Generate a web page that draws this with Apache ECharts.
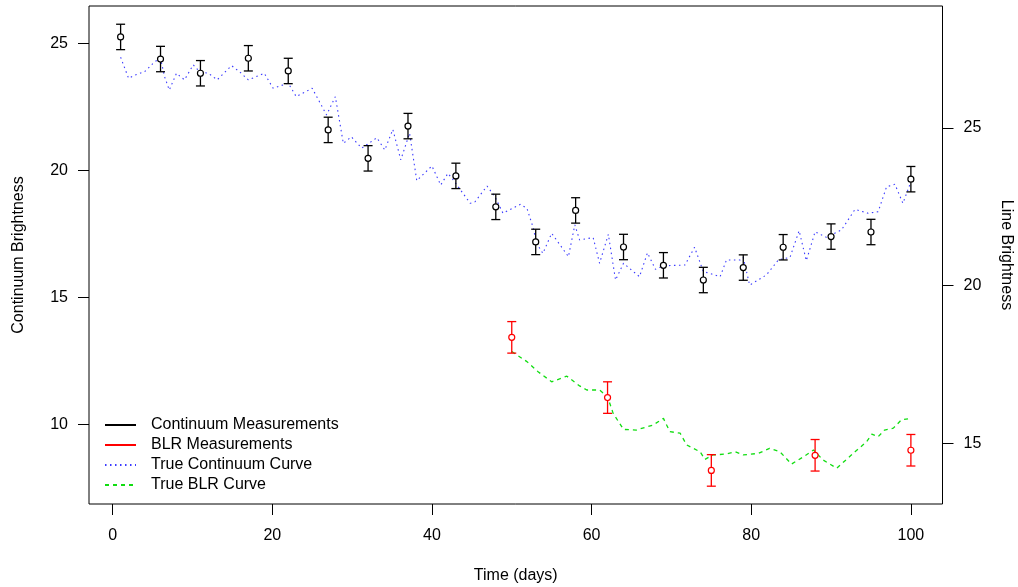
<!DOCTYPE html>
<html>
<head>
<meta charset="utf-8">
<script src="https://cdn.jsdelivr.net/npm/echarts@6/dist/echarts.min.js"></script>
<style>
  html, body { margin: 0; padding: 0; background: #fff; }
  #chart { width: 1018px; height: 587px; }
</style>
</head>
<body>
<div id="chart"></div>
<script>
// tick labels
const xTicks = [0, 20, 40, 60, 80, 100]
const leftTicks = [10, 15, 20, 25]
const rightTicks = [15, 20, 25]

// continuum measurements (left axis), error +-0.5
const contDays = [1, 6, 11, 17, 22, 27, 32, 37, 43, 48, 53, 58, 64, 69, 74, 79, 84, 90, 95, 100]
const contValues = [25.25, 24.38, 23.82, 24.41, 23.91, 21.59, 20.47, 21.74, 19.78, 18.56,
  17.18, 18.42, 16.98, 16.26, 15.68, 16.17, 16.97, 17.39, 17.57, 19.65]
const contErr = [0.5, 0.5, 0.5, 0.5, 0.5, 0.5, 0.5, 0.5, 0.5, 0.5,
  0.5, 0.5, 0.5, 0.5, 0.5, 0.5, 0.5, 0.5, 0.5, 0.5]

// BLR measurements (right axis)
const blrDays = [50, 62, 75, 88, 100]
const blrValues = [18.36, 16.45, 14.14, 14.62, 14.78]
const blrErr = [0.5, 0.5, 0.5, 0.5, 0.5]

// true continuum curve (left axis)
const curveDays = [1, 2, 2.8, 4, 5.3, 6, 6.5, 7.1, 8, 9, 10.1, 10.9, 12, 13.1, 14.9, 15.9, 17, 19,
  20.1, 22, 23, 25, 26.8, 27.9, 28.9, 29.9, 31.2, 33.1, 34.1, 35.1, 36.1, 37.2, 38.1, 40, 41.1,
  42, 42.5, 44.8, 45.4, 46.9, 47.9, 48.9, 51.1, 51.9, 52.7, 53.1, 53.9, 55, 57.1, 57.9, 58.5,
  60.2, 61, 62.1, 63, 64, 66, 67, 68, 69, 71.7, 72.9, 74, 74.8, 76.1, 76.9, 78.6, 79, 79.8,
  81.9, 83.4, 84.85, 86, 86.9, 88, 89.4, 91.3, 93, 94.65, 95.9, 96.95, 98, 99, 100]
const curveValues = [24.45, 23.62, 23.75, 23.88, 24.28, 24.41, 23.69, 23.16, 23.82, 23.56, 24.15,
  23.88, 23.82, 23.56, 24.12, 23.88, 23.56, 23.82, 23.23, 23.43, 22.9, 23.23, 22.18, 22.9, 21.06,
  21.32, 20.87, 21.28, 20.8, 21.61, 20.41, 21.46, 19.59, 20.17, 19.42, 19.88, 19.69, 18.7, 18.76,
  19.38, 18.96, 18.31, 18.66, 18.5, 17.72, 17.13, 16.73, 17.52, 16.6, 17.85, 17.26, 17.35, 16.34,
  17.48, 15.68, 16.34, 15.81, 16.75, 16.1, 16.24, 16.27, 16.97, 16.01, 15.94, 15.81, 16.47, 16.47,
  16.57, 15.48, 15.88, 16.47, 16.57, 17.62, 16.44, 17.58, 17.36, 17.65, 18.46, 18.31, 18.37,
  19.35, 19.45, 18.7, 19.55]

// true BLR curve (right axis)
const blrCurveDays = [50, 51.9, 53.3, 55, 56.9, 58.5, 59.4, 61, 62, 62.7, 64, 65.6, 67.7, 69, 69.8,
  71.1, 71.9, 73.6, 74.2, 75.2, 76.9, 78, 79, 80.9, 82.3, 83.6, 85.05, 86.7, 87.8, 89, 90.7, 93,
  94.45, 95.1, 95.9, 96.7, 97.8, 98.8, 99.9]
const blrCurveValues = [17.91, 17.59, 17.27, 16.95, 17.13, 16.82, 16.69, 16.69, 16.48, 15.95, 15.44,
  15.42, 15.58, 15.79, 15.37, 15.32, 14.95, 14.73, 14.49, 14.63, 14.66, 14.73, 14.63, 14.68, 14.84,
  14.73, 14.34, 14.6, 14.79, 14.47, 14.21, 14.73, 15.05, 15.29, 15.21, 15.42, 15.48, 15.74, 15.79]

const font = 'Liberation Sans, Arial, sans-serif'

// error bar with caps and open circle
function errorBar(color) {
  return function (params, api) {
    let x = api.value(0)
    let y = api.value(1)
    let e = api.value(2)
    let p = api.coord([x, y])
    let hi = api.coord([x, y + e])
    let lo = api.coord([x, y - e])
    let w = 4.5
    let st = { stroke: color, lineWidth: 1.3 }
    return {
      type: 'group',
      children: [
        { type: 'line', shape: { x1: p[0], y1: hi[1], x2: p[0], y2: lo[1] }, style: st },
        { type: 'line', shape: { x1: p[0] - w, y1: hi[1], x2: p[0] + w, y2: hi[1] }, style: st },
        { type: 'line', shape: { x1: p[0] - w, y1: lo[1], x2: p[0] + w, y2: lo[1] }, style: st },
        { type: 'circle', shape: { cx: p[0], cy: p[1], r: 3 }, style: { fill: '#fff', stroke: color, lineWidth: 1.2 } },
      ],
    }
  }
}

let chart = echarts.init(document.getElementById('chart'), null, { renderer: 'canvas' })
chart.setOption({
  animation: false,
  backgroundColor: '#fff',
  textStyle: { fontFamily: font, color: '#000' },
  grid: {
    left: 89, right: 75.5, top: 6, bottom: 83,
    outerBoundsMode: 'none',
    containLabel: false,
    show: true, borderColor: '#000', borderWidth: 1, backgroundColor: 'transparent',
  },
  legend: {
    orient: 'vertical',
    left: 104,
    top: 415,
    padding: 0,
    itemWidth: 31,
    itemHeight: 12,
    itemGap: 0,
    selectedMode: false,
    itemStyle: { opacity: 0, color: 'rgba(0,0,0,0)', borderWidth: 0 },
    textStyle: { fontFamily: font, fontSize: 16, color: '#000', lineHeight: 20, padding: [0, 0, 0, 10] },
    data: ['Continuum Measurements', 'BLR Measurements', 'True Continuum Curve', 'True BLR Curve'],
  },
  xAxis: {
    type: 'value',
    min: -2.96,
    max: 103.96,
    name: 'Time (days)',
    nameLocation: 'middle',
    nameGap: 64,
    nameTextStyle: { fontFamily: font, fontSize: 16, color: '#000' },
    axisLine: { show: false, onZero: false },
    splitLine: { show: false },
    axisTick: { show: true, inside: false, length: 11, lineStyle: { color: '#000' }, customValues: xTicks },
    axisLabel: { fontFamily: font, fontSize: 16, color: '#000', margin: 24, customValues: xTicks },
  },
  yAxis: [
    {
      type: 'value',
      position: 'left',
      min: 6.862,
      max: 26.468,
      name: 'Continuum Brightness',
      nameLocation: 'middle',
      nameGap: 62,
      nameTextStyle: { fontFamily: font, fontSize: 16, color: '#000' },
      axisLine: { show: false, onZero: false },
      splitLine: { show: false },
      axisTick: { show: true, inside: false, length: 11, lineStyle: { color: '#000' }, customValues: leftTicks },
      axisLabel: { fontFamily: font, fontSize: 16, color: '#000', margin: 21, customValues: leftTicks },
    },
    {
      type: 'value',
      position: 'right',
      min: 13.075,
      max: 28.869,
      name: 'Line Brightness',
      nameLocation: 'middle',
      nameRotate: -90,
      nameGap: 56,
      nameTextStyle: { fontFamily: font, fontSize: 16, color: '#000' },
      axisLine: { show: false, onZero: false },
      splitLine: { show: false },
      axisTick: { show: true, inside: false, length: 11, lineStyle: { color: '#000' }, customValues: rightTicks },
      axisLabel: { fontFamily: font, fontSize: 16, color: '#000', margin: 21, customValues: rightTicks },
    },
  ],
  series: [
    {
      name: 'Continuum Measurements',
      type: 'line',
      data: [],
      symbol: 'none',
      color: '#000',
      lineStyle: { color: '#000', width: 1.3 },
    },
    {
      name: 'BLR Measurements',
      type: 'line',
      data: [],
      symbol: 'none',
      color: '#ff0000',
      lineStyle: { color: '#ff0000', width: 1.3 },
    },
    {
      name: 'True Continuum Curve',
      type: 'line',
      yAxisIndex: 0,
      symbol: 'none',
      color: '#3a3aff',
      lineStyle: { color: '#3a3aff', width: 1.1, type: [1.5, 3.5] },
      data: curveDays.map((d, i) => [d, curveValues[i]]),
      z: 2,
    },
    {
      name: 'True BLR Curve',
      type: 'line',
      yAxisIndex: 1,
      symbol: 'none',
      color: '#11dd11',
      lineStyle: { color: '#11dd11', width: 1.3, type: [4, 4] },
      data: blrCurveDays.map((d, i) => [d, blrCurveValues[i]]),
      z: 2,
    },
    {
      name: 'cont-err',
      type: 'custom',
      yAxisIndex: 0,
      renderItem: errorBar('#000'),
      dimensions: ['x', 'y', 'e'],
      encode: { x: 0, y: 1 },
      data: contDays.map((d, i) => [d, contValues[i], contErr[i]]),
      z: 3,
    },
    {
      name: 'blr-err',
      type: 'custom',
      yAxisIndex: 1,
      renderItem: errorBar('#ff0000'),
      dimensions: ['x', 'y', 'e'],
      encode: { x: 0, y: 1 },
      data: blrDays.map((d, i) => [d, blrValues[i], blrErr[i]]),
      z: 3,
    },
  ],
})
</script>
</body>
</html>
